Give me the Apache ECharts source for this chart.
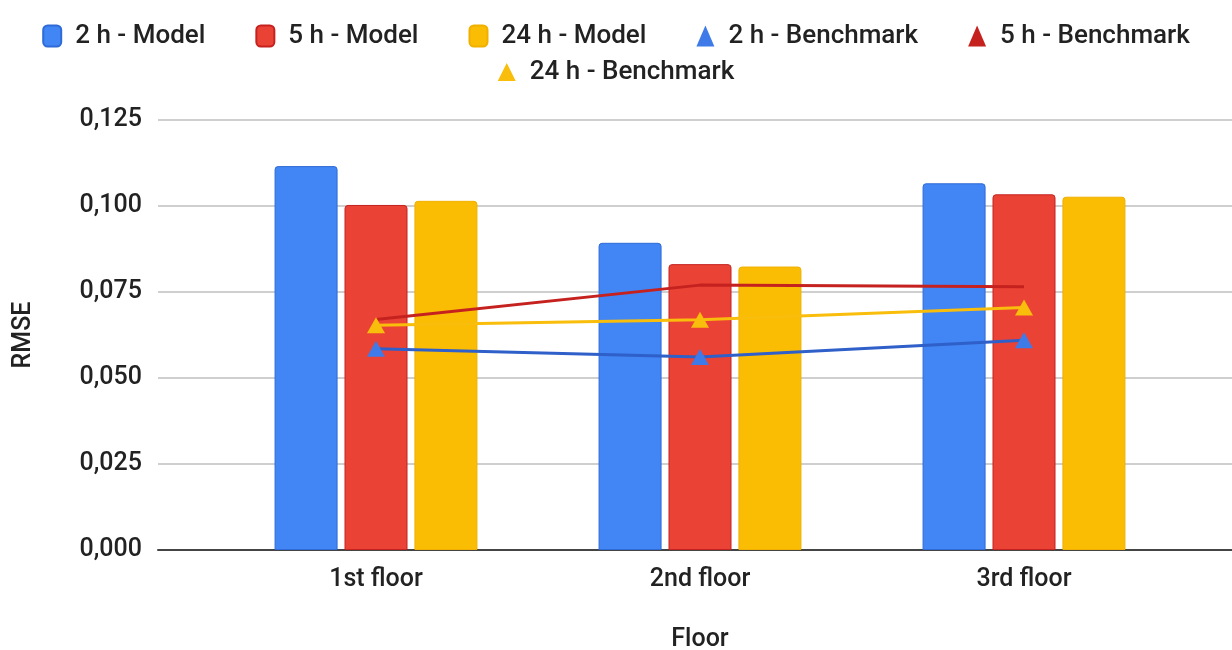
<!DOCTYPE html>
<html>
<head>
<meta charset="utf-8">
<script src="https://cdn.jsdelivr.net/npm/echarts@6/dist/echarts.min.js"></script>
<style>
  html, body { margin: 0; padding: 0; background: #fff; }
  #main { width: 1232px; height: 650px; }
</style>
</head>
<body>
<div id="main"></div>
<script>
var floors = ['1st floor', '2nd floor', '3rd floor'];
var model2h = [0.1116, 0.0893, 0.1066];
var model5h = [0.1003, 0.0831, 0.1034];
var model24h = [0.1015, 0.0824, 0.1027];
var bench2h = [0.0585, 0.0561, 0.0610];
var bench5h = [0.0670, 0.0770, 0.0765];
var bench24h = [0.0653, 0.0669, 0.0705];

var font = 'Roboto, "Liberation Sans", Arial, sans-serif';
var txt = '#222';
var fs = 25;

var myChart = echarts.init(document.getElementById('main'));

function bar(name, data, color, border) {
    return {
        name: name,
        type: 'bar',
        xAxisIndex: 1,
        yAxisIndex: 1,
        data: data,
        barWidth: 63,
        barGap: '11%',
        itemStyle: {
            color: color,
            borderColor: border,
            borderWidth: 1,
            borderRadius: [3, 3, 0, 0]
        }
    };
}

function line(name, data, color, markColor, showMarks) {
    return {
        name: name,
        type: 'line',
        xAxisIndex: 1,
        yAxisIndex: 1,
        data: data,
        z: 4,
        symbol: showMarks ? 'triangle' : 'none',
        symbolSize: [18, 16],
        lineStyle: { color: color, width: 3 },
        itemStyle: { color: markColor }
    };
}

var legendText = { fontFamily: font, fontSize: 26, fontWeight: 500, color: txt, padding: [0, 0, 0, 9] };

var option = {
    backgroundColor: '#fff',
    animation: false,
    textStyle: { fontFamily: font },
    legend: [{
        top: 18,
        left: 'center',
        itemWidth: 18,
        itemHeight: 21,
        itemGap: 50,
        textStyle: legendText,
        data: [
            { name: '2 h - Model', icon: 'roundRect' },
            { name: '5 h - Model', icon: 'roundRect' },
            { name: '24 h - Model', icon: 'roundRect' },
            { name: '2 h - Benchmark', icon: 'triangle' },
            { name: '5 h - Benchmark', icon: 'triangle', itemStyle: { color: '#c5221f' } }
        ]
    }, {
        top: 54,
        left: 'center',
        itemWidth: 18,
        itemHeight: 18,
        textStyle: legendText,
        data: [{ name: '24 h - Benchmark', icon: 'triangle' }]
    }],
    grid: [
        { left: 158, right: 0, top: 120, bottom: 100, outerBoundsMode: 'none' },
        { left: 214, right: 46, top: 120, bottom: 100, outerBoundsMode: 'none' }
    ],
    xAxis: [{
        gridIndex: 0,
        type: 'value',
        min: 0,
        max: 1,
        axisLine: { show: true, lineStyle: { color: '#444', width: 2 } },
        axisTick: { show: false },
        axisLabel: { show: false },
        splitLine: { show: false }
    }, {
        gridIndex: 1,
        type: 'category',
        data: floors,
        axisLine: { show: false },
        axisTick: { show: false },
        axisLabel: { margin: 17, fontSize: fs, fontWeight: 500, color: txt, fontFamily: font },
        name: 'Floor',
        nameLocation: 'middle',
        nameGap: 77,
        nameTextStyle: { fontSize: fs, fontWeight: 500, color: txt, fontFamily: font }
    }],
    yAxis: [{
        gridIndex: 0,
        type: 'value',
        min: 0,
        max: 0.125,
        interval: 0.025,
        axisLine: { show: false },
        axisTick: { show: false },
        axisLabel: {
            margin: 16,
            fontSize: fs,
            fontWeight: 500,
            color: txt,
            fontFamily: font,
            formatter: function (v) { return v.toFixed(3).replace('.', ','); }
        },
        splitLine: { lineStyle: { color: '#cfcfcf', width: 2 } },
        name: 'RMSE',
        nameLocation: 'middle',
        nameGap: 122,
        nameTextStyle: { fontSize: fs, fontWeight: 500, color: txt, fontFamily: font }
    }, {
        gridIndex: 1,
        type: 'value',
        min: 0,
        max: 0.125,
        interval: 0.025,
        show: false,
        splitLine: { show: false }
    }],
    series: [
        bar('2 h - Model', model2h, '#4285f4', '#2f6bd6'),
        bar('5 h - Model', model5h, '#ea4335', '#c5221f'),
        bar('24 h - Model', model24h, '#fbbc04', '#f0b000'),
        line('2 h - Benchmark', bench2h, '#2f5fc8', '#3f7be8', true),
        line('5 h - Benchmark', bench5h, '#c5221f', '#c5221f', false),
        line('24 h - Benchmark', bench24h, '#f9bd0b', '#f9bd0b', true)
    ]
};

myChart.setOption(option);
</script>
</body>
</html>
